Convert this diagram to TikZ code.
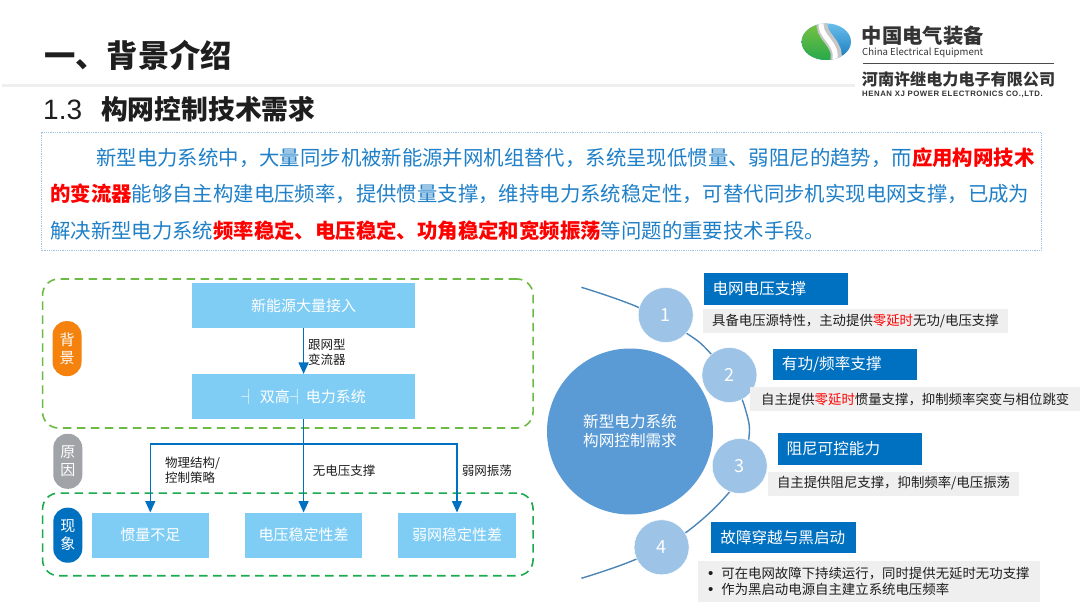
\documentclass[tikz,border=0pt]{standalone}
\usepackage{fontspec}
\setmainfont{Noto Sans CJK SC}
\newfontfamily\latinfont{Liberation Sans}
\newfontfamily\logofont[LetterSpace=7]{Liberation Sans}
\usetikzlibrary{arrows.meta}
\definecolor{sky-box}{HTML}{7FCDF5}
\definecolor{deep-blue}{HTML}{0070C0}
\definecolor{body-blue}{HTML}{1F80C8}
\definecolor{mid-blue}{HTML}{5B9BD5}
\definecolor{pale-blue}{HTML}{9DC3E6}
\definecolor{arc-blue}{HTML}{4A86B8}
\definecolor{panel-grey}{HTML}{EFEFEF}
\definecolor{ink}{HTML}{1E1E1E}
\definecolor{pill-orange}{HTML}{F5820D}
\definecolor{pill-grey}{HTML}{A0A3A8}
\definecolor{frame-lime}{HTML}{6DBB45}
\definecolor{frame-green}{HTML}{1BAA4E}
\definecolor{logo-lightblue}{HTML}{6DC1EC}
\definecolor{logo-darkblue}{HTML}{0F75BC}
\definecolor{logo-lightgreen}{HTML}{7DC242}
\definecolor{logo-darkgreen}{HTML}{22A84A}
\newcommand{\fsz}[2]{\fontsize{#1}{#2}\selectfont}
\newcommand{\hot}[1]{\textcolor{red}{\textbf{#1}}}
\newcommand{\warm}[1]{\textcolor{red}{#1}}
\tikzset{
  flowbox/.style={fill=sky-box, text=white, inner sep=0pt, font=\fsz{15}{18}},
  pill/.style={rounded corners=14pt, text=white, minimum width=29pt, minimum height=55pt,
    inner sep=0pt, align=center, font=\fsz{15}{18.3}},
  flowlabel/.style={anchor=west, inner sep=0pt, align=left, text=ink, font=\fsz{12.5}{15.4}},
  flow/.style={draw=deep-blue, line width=1.5pt},
  flowtip/.style={-{Triangle[width=10pt,length=11.5pt]}},
  bodyline/.style={anchor=west, inner sep=0pt, text=body-blue, font=\fsz{20.4}{24}},
  panelframe/.style={dash pattern=on 8.5pt off 5.5pt, line width=1.6pt, rounded corners=16pt,
    minimum width=490.5pt, inner sep=0pt},
  headbox/.style={fill=deep-blue, text=white, minimum width=144.5pt,
    minimum height=31.5pt, inner ysep=0pt, inner xsep=9pt, text width=126.5pt, align=left,
    anchor=north west, font=\fsz{15.6}{18}},
  descbox/.style={fill=panel-grey, text=ink, minimum height=24pt, inner sep=0pt, anchor=north west,
    font=\fsz{13.4}{16}},
  numdot/.style={circle, fill=pale-blue, draw=white, line width=0.5pt, minimum size=55pt, inner sep=0pt,
    text=white, font=\fsz{18}{20}},
}
\begin{document}
\begin{tikzpicture}[x=1pt, y=-1pt]
  % canvas is 1080 x 608, one unit per reference pixel, y runs downwards
  \useasboundingbox (0,0) rectangle (1080,608);
  \fill[white] (0,0) rectangle (1080,608);

  % titles
  \fill[panel-grey] (2,83.5) rectangle (855,86.5);
  \node[anchor=west, inner sep=0pt, text=ink, font=\bfseries\fsz{31.3}{34}] (title) at (44,55.5) {一、背景介绍};
  \node[anchor=west, inner sep=0pt, text=ink, font=\bfseries\fsz{26.8}{30}] (subtitle) at (43,109.5)
    {{\latinfont\mdseries\fontsize{28}{30}\selectfont 1.3}\hspace{19pt}构网控制技术需求};

  % logo
  \begin{scope}
    \clip (826.3,41.7) ellipse [x radius=24.7, y radius=18.3];
    \shade[top color=logo-lightblue, bottom color=logo-darkblue] (795,22) rectangle (855,62);
    \shade[top color=logo-lightgreen, bottom color=logo-darkgreen] (818,22)
      .. controls (812,38) and (838,44) .. (830,62) -- (795,62) -- (795,22) -- cycle;
    \draw[line width=11pt, black!22] (823,20) .. controls (817,37) and (842,42) .. (835,63);
    \draw[line width=5pt, white] (822,20) .. controls (816,37) and (841,42) .. (834,63);
  \end{scope}
  \node[anchor=west, inner sep=0pt, text=black!80, font=\bfseries\fsz{20.3}{22}] (logoa) at (861.7,36) {中国电气装备};
  \node[anchor=west, inner sep=0pt, text=black!80, font=\fsz{9.6}{10}] (logob) at (862,52.7) {China Electrical Equipment};
  \draw[black!70, line width=0.8pt] (863,63) -- (1054,63);
  \node[anchor=west, inner sep=0pt, text=black!80, font=\bfseries\fsz{16.1}{18}] (logoc) at (861.7,79.3) {河南许继电力电子有限公司};
  \node[anchor=west, inner sep=0pt, text=black!80, font=\logofont\bfseries\fsz{7.8}{9}] (logod) at (862,94) {HENAN XJ POWER ELECTRONICS CO.,LTD.};

  % intro text
  \draw[pale-blue, densely dotted, line width=0.8pt] (41,132.7) rectangle (1041,250.7);
  \node[bodyline] (linea) at (96,158) {新型电力系统中，大量同步机被新能源并网机组替代，系统呈现低惯量、弱阻尼的趋势，而\hot{应用构网技术}};
  \node[bodyline] (lineb) at (50,194) {\hot{的变流器}能够自主构建电压频率，提供惯量支撑，维持电力系统稳定性，可替代同步机实现电网支撑，已成为};
  \node[bodyline] (linec) at (50,231) {解决新型电力系统\hot{频率稳定、电压稳定、功角稳定和宽频振荡}等问题的重要技术手段。};

  % left panel
  \node[panelframe, draw=frame-lime, minimum height=149pt] (upperframe) at (287.8,353.5) {};
  \node[panelframe, draw=frame-green, minimum height=82.7pt] (lowerframe) at (287.8,534.4) {};
  \node[flowbox, minimum width=222.7pt, minimum height=44.7pt] (access) at (303.6,305.7) {新能源大量接入};
  \node[flowbox, minimum width=222.7pt, minimum height=44.7pt] (dualhigh) at (303.6,396.5) {┤ 双高┤\hspace{1pt}电力系统};
  \node[flowbox, minimum width=117.3pt, minimum height=45pt] (inertia) at (150.3,535.2) {惯量不足};
  \node[flowbox, minimum width=117.3pt, minimum height=45pt] (voltage) at (303.6,535.2) {电压稳定性差};
  \node[flowbox, minimum width=117.3pt, minimum height=45pt] (weakgrid) at (457,535.2) {弱网稳定性差};
  \node[pill, fill=pill-orange] (pillbg) at (67,348.6) {背\\景};
  \node[pill, fill=pill-grey] (pillcause) at (67.8,461.3) {原\\因};
  \node[pill, fill=deep-blue] (pillseen) at (67.8,535.2) {现\\象};
  \coordinate (branch) at (303.6,444);
  \draw[flow, flowtip] (access) -- (dualhigh);
  \draw[flow, flowtip] (dualhigh) -- (voltage);
  \draw[flow, flowtip] (branch) -| (inertia);
  \draw[flow, flowtip] (branch) -| (weakgrid);
  \node[flowlabel] (lbltype) at (308,352.3) {跟网型\\变流器};
  \node[flowlabel] (lblstruct) at (165,470.5) {物理结构/\\控制策略};
  \node[flowlabel] (lblnovolt) at (312.7,470.5) {无电压支撑};
  \node[flowlabel] (lblweak) at (461.7,470.5) {弱网振荡};

  % right panel
  \draw[arc-blue, line width=1.4pt] plot[smooth, tension=0.7] coordinates {(581.4,287.3) (638.3,307.3) (686.6,333.3)
    (711.4,354.3) (735,385) (747,415) (749,437) (742,465) (729.7,491.7) (684.8,533.3) (636.6,559) (581.4,578.3)};
  \node[circle, fill=mid-blue, minimum size=166pt, inner sep=0pt, text=white, align=center, font=\fsz{15.6}{19}] (core)
    at (630,431.5) {新型电力系统\\构网控制需求};
  \node[numdot] (dota) at (665.7,315) {1};
  \node[numdot] (dotb) at (729.4,375) {2};
  \node[numdot] (dotc) at (739.7,466) {3};
  \node[numdot] (dotd) at (661.6,547.3) {4};
  \node[headbox] (heada) at (703.3,273) {电网电压支撑};
  \node[headbox] (headb) at (772.7,348.3) {有功/频率支撑};
  \node[headbox] (headc) at (777.3,433) {阻尼可控能力};
  \node[headbox] (headd) at (711.2,521.7) {故障穿越与黑启动};
  \node[descbox, minimum width=304.7pt] (desca) at (702.9,308.7) {具备电压源特性，主动提供\warm{零延时}无功/电压支撑};
  \node[descbox, minimum width=330pt] (descb) at (750,387) {自主提供\warm{零延时}惯量支撑，抑制频率突变与相位跳变};
  \node[descbox, minimum width=250.7pt] (descc) at (768,471.3) {自主提供阻尼支撑，抑制频率/电压振荡};
  \node[descbox, minimum width=341.3pt, minimum height=40.7pt, align=left] (descd) at (698,561)
    {{\latinfont\fontsize{15}{16}\selectfont\textbullet}\hspace{8pt}可在电网故障下持续运行，同时提供无延时无功支撑\\
     {\latinfont\fontsize{15}{16}\selectfont\textbullet}\hspace{8pt}作为黑启动电源自主建立系统电压频率};
\end{tikzpicture}
\end{document}
